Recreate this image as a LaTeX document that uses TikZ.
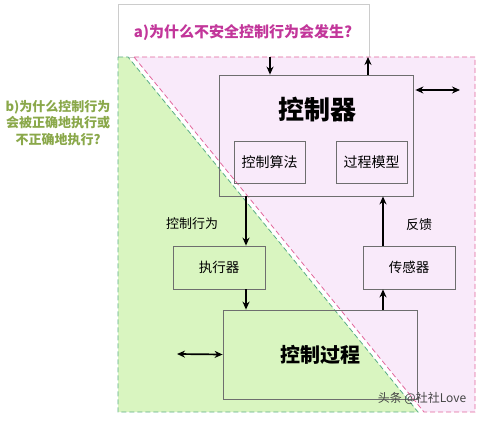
\documentclass[tikz,border=0pt]{standalone}
\usepackage{fontspec}
\setmainfont{Noto Sans CJK SC}
\usetikzlibrary{arrows.meta}
\definecolor{rosafill}{HTML}{F9EAFA}
\definecolor{rosalinie}{HTML}{E2679C}
\definecolor{gruenfill}{HTML}{D9F5C0}
\definecolor{gruenlinie}{HTML}{5AAE86}
\definecolor{magentatext}{HTML}{C2369A}
\definecolor{olivtext}{HTML}{8AA84A}
\definecolor{kastengrau}{HTML}{6E6E6E}
\tikzset{
  kasten/.style={draw=kastengrau, line width=0.8pt, inner sep=0pt},
  pfeil/.style={-{Stealth[length=8pt,width=7pt]}, line width=1.7pt},
  dpfeil/.style={{Stealth[length=8pt,width=7pt]}-{Stealth[length=8pt,width=7pt]}, line width=1.7pt},
  bereich/.style={dash pattern=on 5pt off 3pt, line width=0.8pt},
}
\begin{document}
\begin{tikzpicture}[x=1pt,y=-1pt]
  \useasboundingbox (0,0) rectangle (482,422);
  % frage a)
  \node[draw=gray!40, line width=0.8pt, minimum width=251pt, minimum height=53pt, anchor=north west, inner sep=0pt] (frageA) at (118,4) {};
  \node[text=magentatext, font=\fontsize{15}{15}\bfseries] (titelA) at (243,33) {a)为什么不安全控制行为会发生?};
  % bereiche
  \draw[bereich, draw=rosalinie, fill=rosafill] (134,57) -- (475,57) -- (475,412) -- (424,412) -- cycle;
  \draw[bereich, draw=gruenlinie, fill=gruenfill] (118,57) -- (128,57) -- (418,412) -- (118,412) -- cycle;
  % frage b)
  \node[text=olivtext, align=center, font=\fontsize{13}{16.5}\bfseries] (titelB) at (58,123) {b)为什么控制行为\\会被正确地执行或\\不正确地执行?};
  % regler
  \node[kasten, minimum width=194pt, minimum height=121pt] (regler) at (316,135.5) {};
  \node[font=\fontsize{26}{26}\bfseries] (reglerT) at (317,110) {控制器};
  \node[kasten, minimum width=71pt, minimum height=42pt, font=\fontsize{14}{14}\selectfont] (algo) at (269.5,162) {控制算法};
  \node[kasten, minimum width=71pt, minimum height=42pt, font=\fontsize{14}{14}\selectfont] (modell) at (371.5,162) {过程模型};
  % aktor, sensor, prozess
  \node[kasten, minimum width=92pt, minimum height=43pt, font=\fontsize{13.5}{13.5}\selectfont] (aktor) at (219,267.5) {执行器};
  \node[kasten, minimum width=92pt, minimum height=43pt, font=\fontsize{13.5}{13.5}\selectfont] (sensor) at (409,267.5) {传感器};
  \node[kasten, minimum width=194pt, minimum height=89pt, font=\fontsize{20}{20}\bfseries] (prozess) at (320,354.5) {控制过程};
  % pfeile
  \coordinate (einA) at (270,57);
  \coordinate (ausA) at (368,57);
  \coordinate (umweltR) at (460,90);
  \coordinate (umweltL) at (177,354);
  \coordinate (stell) at (246,0);
  \coordinate (mess) at (383,0);
  \draw[pfeil] (einA) -- (einA |- regler.north);
  \draw[pfeil] (ausA |- regler.north) -- (ausA);
  \draw[dpfeil] ([xshift=2pt]regler.east |- umweltR) -- (umweltR);
  \draw[pfeil] (regler.south -| stell) -- (aktor.north -| stell);
  \draw[pfeil] (aktor.south -| stell) -- (prozess.north -| stell);
  \draw[pfeil] (prozess.north -| mess) -- (sensor.south -| mess);
  \draw[pfeil] (sensor.north -| mess) -- (regler.south -| mess);
  \draw[dpfeil] (umweltL) -- (prozess.west);
  \node[font=\fontsize{13}{13}\selectfont] (stellT) at (192,224) {控制行为};
  \node[font=\fontsize{13}{13}\selectfont] (rueckT) at (419,225) {反馈};
  \node[text=gray!55!black, font=\fontsize{12}{12}\selectfont] (marke) at (422,398) {头条 @社社Love};
\end{tikzpicture}
\end{document}
